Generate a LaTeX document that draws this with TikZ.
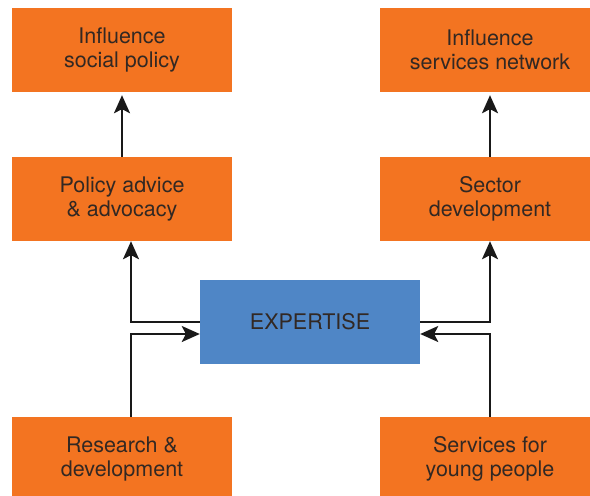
\documentclass[tikz,border=0pt]{standalone}
\usepackage{fontspec}
\setmainfont{TeX Gyre Heros}
\usepackage{xcolor}
\usepackage{tikz}
\usetikzlibrary{arrows.meta}
\usetikzlibrary{calc}

\definecolor{boxorange}{RGB}{243,116,33}
\definecolor{boxblue}{RGB}{79,134,198}
\definecolor{boxtext}{RGB}{50,40,35}

\tikzset{
  box/.style={fill=boxorange, minimum width=220pt, minimum height=84pt, inner sep=0pt,
    align=center, text=boxtext, font=\fontsize{21.5}{23.5}\selectfont},
  core/.style={box, fill=boxblue},
  arr/.style={line width=1.8pt, draw=black!90, -{Stealth[length=18pt,width=16pt,inset=4pt]}}
}

\begin{document}
\begin{tikzpicture}[x=1pt, y=-1pt]
      \useasboundingbox (0,0) rectangle (590,496);
      \clip (0,0) rectangle (590,496);

      \node[box] (isp) at (122,50) {Influence\\social policy};
      \node[box] (isn) at (490,50) {Influence\\services network};

      \node[box] (pad) at (122,199) {Policy advice\\\& advocacy};
      \node[box] (sd) at (490,199) {Sector\\development};

      \node[core] (exp) at (310,322) {EXPERTISE};

      \node[box] (rd) at (122,459) {Research \&\\development};
      \node[box] (syp) at (490,459) {Services for\\young people};

      \draw[arr, shorten >=3pt] (pad) -- (isp);
      \draw[arr, shorten >=3pt] (sd) -- (isn);

      \draw[arr] (exp.west) -| ([xshift=9pt]pad.south);
      \draw[arr] ([xshift=9pt]rd.north) |- ([yshift=-12pt]exp.west);

      \draw[arr] (exp.east) -| (sd.south);
      \draw[arr] (syp.north) |- ([yshift=-12pt]exp.east);

    \end{tikzpicture}
\end{document}
